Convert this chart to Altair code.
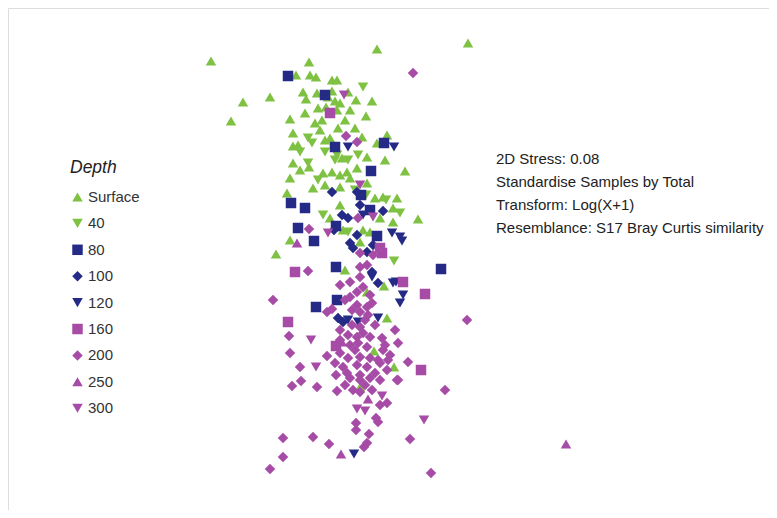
import altair as alt
import pandas as pd

# Depth groups, legend order, colours and symbols
depth_levels = ["Surface", "40", "80", "100", "120", "160", "200", "250", "300"]
level_colors = ["#7fc143", "#7fc143", "#252a86", "#252a86", "#252a86",
                "#a64ca6", "#a64ca6", "#a64ca6", "#a64ca6"]
level_shapes = ["triangle-up", "triangle-down", "square", "diamond", "triangle-down",
                "square", "diamond", "triangle-up", "triangle-down"]
level_sizes = [110, 110, 80, 130, 110, 80, 130, 110, 110]

# nMDS ordination coordinates (arbitrary units)
surface_x = [211, 309, 377, 468, 296, 310, 316, 332, 337, 303, 306, 317, 332, 335, 340, 326, 337, 350,
             372, 366, 243, 270, 231, 290, 315, 322, 338, 293, 325, 330, 362, 387, 377, 367, 342, 385,
             293, 298, 293, 309, 300, 323, 332, 347, 405, 290, 313, 325, 340, 367, 287, 375, 383, 397,
             340, 393, 418, 330, 380, 393, 343, 363, 370, 290, 360, 276, 345, 384, 367, 387, 374, 394,
             360, 350, 357, 340, 320, 345, 355, 328, 348, 356, 318, 305]
surface_y = [61, 62, 49, 43, 75, 75, 77, 80, 80, 92, 99, 93, 91, 101, 103, 107, 110, 110,
             101, 116, 102, 97, 121, 119, 123, 120, 128, 133, 140, 138, 137, 135, 143, 157, 158, 160,
             146, 145, 163, 167, 170, 173, 172, 172, 171, 178, 188, 185, 187, 183, 193, 198, 197, 198,
             205, 208, 219, 218, 218, 222, 230, 230, 232, 240, 242, 254, 270, 286, 292, 318, 351, 367,
             387, 178, 168, 175, 130, 120, 128, 97, 92, 100, 108, 113]

d40_x = [363, 308, 312, 325, 337, 348, 358, 308, 300, 318, 355, 386, 400, 323, 348, 394, 366, 335]
d40_y = [87, 138, 143, 152, 155, 160, 155, 163, 152, 180, 190, 200, 213, 215, 232, 261, 195, 160]

d80_x = [288, 325, 335, 384, 371, 291, 305, 361, 370, 377, 298, 314, 336, 336, 441, 316, 337]
d80_y = [76, 95, 147, 143, 171, 203, 208, 195, 210, 236, 228, 241, 226, 267, 269, 307, 300]

d100_x = [332, 357, 383, 334, 342, 350, 353, 373, 367, 372, 338, 343, 378, 360, 348, 357]
d100_y = [192, 192, 211, 230, 215, 243, 248, 245, 252, 272, 318, 322, 283, 205, 218, 235]

d120_x = [348, 394, 363, 392, 400, 372, 393, 403, 400, 358, 378, 348, 354, 396, 402]
d120_y = [147, 147, 215, 233, 237, 277, 283, 295, 303, 322, 318, 320, 454, 282, 241]

d160_x = [330, 295, 403, 425, 288, 421, 382, 336, 380]
d160_y = [113, 272, 282, 294, 322, 370, 253, 346, 248]

d200_x = [413, 346, 357, 309, 308, 273, 289, 290, 300, 327, 467, 395, 398, 408, 388, 398, 445, 292,
          301, 317, 337, 410, 431, 270, 283, 283, 313, 329, 376, 378, 369, 367, 364, 356, 356, 380,
          387, 340, 350, 360, 363, 357, 370, 350, 327, 332, 357, 360, 367, 368, 360, 363, 357, 370,
          382, 350, 358, 367, 383, 340, 348, 360, 370, 335, 343, 357, 367, 380, 336, 347, 360, 375,
          387, 350, 360, 370, 380, 397, 353, 360, 372, 373, 360, 358, 360, 367,
          345, 352, 340, 348, 375, 385, 345, 365, 378, 390, 355, 340, 372, 365, 352]
d200_y = [73, 136, 142, 229, 271, 300, 336, 353, 367, 356, 320, 330, 343, 362, 360, 380, 390, 386,
          381, 387, 391, 439, 473, 469, 457, 438, 437, 444, 418, 422, 434, 443, 447, 423, 430, 405,
          403, 285, 282, 277, 287, 292, 295, 297, 312, 309, 305, 312, 307, 315, 327, 333, 337, 337,
          338, 345, 343, 347, 350, 353, 358, 357, 358, 363, 367, 365, 367, 363, 375, 373, 375, 373,
          370, 378, 380, 378, 380, 380, 390, 392, 390, 255, 253, 218, 267, 265,
          300, 310, 330, 335, 325, 345, 385, 385, 360, 355, 350, 340, 303, 320, 325]

d250_x = [297, 342, 368, 341, 566]
d250_y = [243, 342, 399, 454, 444]

d300_x = [344, 360, 373, 328, 311, 316, 357, 365, 382, 424]
d300_y = [95, 185, 217, 233, 340, 367, 409, 411, 396, 420]

annotation_lines = ["2D Stress: 0.08",
                    "Standardise Samples by Total",
                    "Transform: Log(X+1)",
                    "Resemblance: S17 Bray Curtis similarity"]

groups = [("Surface", surface_x, surface_y), ("40", d40_x, d40_y), ("80", d80_x, d80_y),
          ("100", d100_x, d100_y), ("120", d120_x, d120_y), ("160", d160_x, d160_y),
          ("200", d200_x, d200_y), ("250", d250_x, d250_y), ("300", d300_x, d300_y)]
rows = []
for name, xs, ys in groups:
    for a, b in zip(xs, ys):
        rows.append({"Depth": name, "x": a, "y": b})
df = pd.DataFrame(rows)

legend = alt.Legend(
    title="Depth", orient="none", legendX=62, legendY=151,
    titleFont="Liberation Sans", titleFontStyle="italic", titleFontWeight="normal",
    titleFontSize=17.5, titleColor="#222222", titlePadding=13,
    labelFont="Liberation Sans", labelFontSize=15, labelColor="#333333",
    labelOffset=3, symbolSize=60, symbolStrokeWidth=0, rowPadding=10.4, padding=0,
)

points = alt.Chart(df).mark_point(filled=True, opacity=1).encode(
    x=alt.X("x:Q", scale=alt.Scale(domain=[8, 769], nice=False, zero=False), axis=None),
    y=alt.Y("y:Q", scale=alt.Scale(domain=[8, 510], reverse=True, nice=False, zero=False), axis=None),
    color=alt.Color("Depth:N", scale=alt.Scale(domain=depth_levels, range=level_colors), legend=legend),
    shape=alt.Shape("Depth:N", scale=alt.Scale(domain=depth_levels, range=level_shapes), legend=legend),
    size=alt.Size("Depth:N", scale=alt.Scale(domain=depth_levels, range=level_sizes), legend=None),
)

notes = alt.Chart(pd.DataFrame({"k": [0]})).mark_text(
    align="left", baseline="top", font="Liberation Sans", fontSize=15,
    lineHeight=23, color="#222222", text=annotation_lines,
).encode(x=alt.value(488), y=alt.value(144))

chart = alt.layer(points, notes).properties(
    width=761, height=502, padding=0,
    autosize=alt.AutoSizeParams(type="fit", contains="padding"),
).configure_view(stroke="#9a9a9a", strokeWidth=1).configure(background="white")

chart.save("out.html", embed_options={"renderer": "svg", "actions": False})
